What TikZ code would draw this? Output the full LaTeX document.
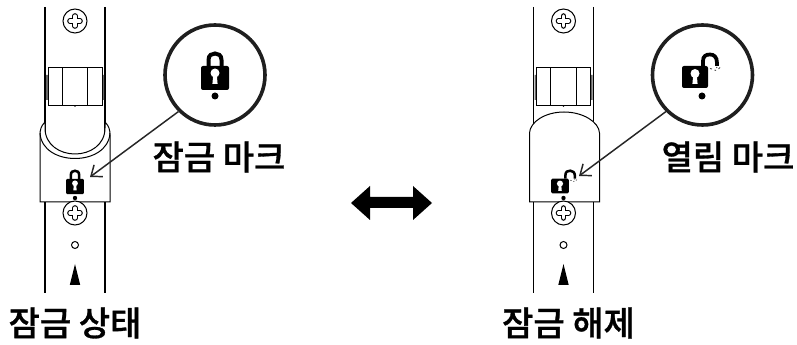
\documentclass[tikz,border=0pt]{standalone}
\usepackage{fontspec}
\usetikzlibrary{arrows.meta}
\newfontfamily\krfont{Noto Sans CJK KR Medium}[FakeBold=0.9]
\tikzset{
  px/.style={x=0.75pt,y=-0.75pt},
  strip/.style={draw=black,line width=0.8pt},
  thin part/.style={draw=black,line width=0.75pt},
  lens/.style={circle,draw=black!88,fill=white,line width=2.7pt,minimum size=75pt,inner sep=0pt},
  pointer/.style={draw=black!85,line width=1.1pt,-{Straight Barb[length=7pt,width=11pt,line width=1.1pt]}},
  label/.style={font=\krfont\fontsize{25.5pt}{28pt}\selectfont,inner sep=0pt,text=black},
}
\newcommand{\screwat}[2]{%
  \draw[thin part,fill=white] (#1,#2) circle (12);
  \draw[black,line width=4.2pt,line cap=round] (#1-5,#2) -- (#1+5,#2) (#1,#2-5) -- (#1,#2+5);
  \draw[white,line width=2.4pt,line cap=round] (#1-5,#2) -- (#1+5,#2) (#1,#2-5) -- (#1,#2+5);
}
\newcommand{\stripat}[1]{%
  \draw[strip] (#1-30,7) -- (#1-30,293) (#1+30,7) -- (#1+30,293);
  \screwat{#1}{21}
  \fill[black!60] (#1-29,75) rectangle (#1-27,100) (#1+27,75) rectangle (#1+29,100);
  \draw[thin part,fill=white] (#1-27,68) rectangle (#1+27,106);
  \draw[thin part] (#1-13,68) -- (#1-13,106) (#1+12.5,68) -- (#1+12.5,106);
  \fill[black] (#1,106) circle (0.8);
}
\newcommand{\stripbottom}[1]{%
  \screwat{#1}{213}
  \draw[thin part,fill=white] (#1,245) circle (3.5);
  \fill[black] (#1,264) -- (#1+5.2,285) -- (#1-5.2,285) -- cycle;
  \fill[black] (#1,198) circle (2.2);
}
\newcommand{\lockclosed}[3]{%
  \begin{scope}[shift={(#1,#2)},scale=#3]
    \fill[black,rounded corners=1.5pt*#3] (-14,-12) rectangle (14,12);
    \draw[black,line width=3pt*#3] (-6.5,-12) -- (-6.5,-18) .. controls (-6.5,-23) and (-3,-24.5) .. (0,-24.5) .. controls (3,-24.5) and (6.5,-23) .. (6.5,-18) -- (6.5,-12);
    \fill[white] (0,-5) circle (4.5);
    \fill[white] (-1.8,-3) -- (1.8,-3) -- (2.6,6) -- (-2.6,6) -- cycle;
  \end{scope}
}
\newcommand{\lockopen}[3]{%
  \begin{scope}[shift={(#1,#2)},scale=#3]
    \fill[black,rounded corners=1.5pt*#3] (-13,-11) rectangle (13,11);
    \draw[black,line width=2.8pt*#3] (8,-11) -- (8,-16) .. controls (8,-21) and (11,-22.5) .. (15,-22.5) .. controls (19,-22.5) and (22,-20) .. (22,-14) -- (22,-11);
    \fill[white] (0,-3.5) circle (4.5);
    \fill[white] (-1.8,-2) -- (1.8,-2) -- (2.6,7) -- (-2.6,7) -- cycle;
    \draw[black!70,line width=0.7pt*#3] (15,-8.5) -- (17,-8) (19.5,-7) -- (21,-6.5) (23.5,-8) -- (25,-9.5) (21.5,-10) -- (22,-9);
  \end{scope}
}
\begin{document}
\begin{tikzpicture}[px]
\useasboundingbox (0,0) rectangle (797,345);
\fill[white] (0,0) rectangle (797,345);

% --- locked state ---
\stripat{75}
\draw[thin part,fill=white]
  (40,202) -- (40,135) .. controls (40,130) and (41,126) .. (45,122)
  -- (45,128) .. controls (45,145) and (60,154) .. (75,154)
  .. controls (90,154) and (105,145) .. (105,128) -- (105,122)
  .. controls (109,126) and (110,130) .. (110,135) -- (110,202) -- cycle;
\draw[thin part] (40,133) .. controls (41,150) and (58,158.5) .. (75,158.5)
  .. controls (92,158.5) and (109,150) .. (110,133);
\stripbottom{75}
\lockclosed{75}{186.5}{0.64}
\node[lens] (lensA) at (215,75) {};
\lockclosed{215}{78}{1}
\fill[black] (215,96) circle (3.5);
\coordinate (tipA) at (90,177);
\draw[pointer] (lensA.south west) -- (tipA);
\node[label] (markA) at (219,157) {잠금 마크};
\node[label] (stateA) at (75,323) {잠금 상태};

% --- double arrow ---
\fill[black] (351,203) -- (370,186) -- (370,197) -- (413,197) -- (413,186) -- (432,203) -- (413,220) -- (413,208) -- (370,208) -- (370,220) -- cycle;

% --- unlocked state ---
\stripat{563.5}
\draw[thin part,fill=white]
  (529.5,202) -- (529.5,133) .. controls (530,122) and (545,112) .. (564,112)
  .. controls (583,112) and (599,122) .. (599.5,133) -- (599.5,202) -- cycle;
\stripbottom{563.5}
\lockopen{560}{186}{0.68}
\node[lens] (lensB) at (702.5,75) {};
\lockopen{695}{77}{1}
\fill[black] (702,96) circle (3.5);
\coordinate (tipB) at (579,176);
\draw[pointer] (lensB.south west) -- (tipB);
\node[label] (markB) at (728,157) {열림 마크};
\node[label] (stateB) at (568.5,323) {잠금 해제};
\end{tikzpicture}
\end{document}
